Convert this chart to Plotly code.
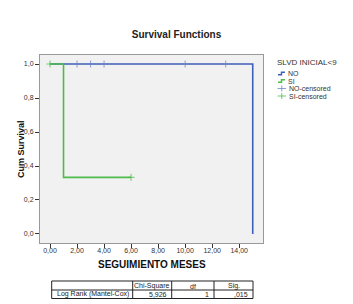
import plotly.graph_objects as go

# ---- data ----
no_time = [0, 15]
no_surv = [1.0, 0.0]
no_cens_time = [2, 3, 4, 10, 13]
no_cens_surv = [1.0, 1.0, 1.0, 1.0, 1.0]

si_time = [0, 1, 6]
si_surv = [1.0, 0.3333, 0.3333]
si_cens_time = [0, 6]
si_cens_surv = [1.0, 0.3333]

x_tickvals = [0, 2, 4, 6, 8, 10, 12, 14]
x_ticktext = ["0,00", "2,00", "4,00", "6,00", "8,00", "10,00", "12,00", "14,00"]
y_tickvals = [0, 0.2, 0.4, 0.6, 0.8, 1.0]
y_ticktext = ["0,0", "0,2", "0,4", "0,6", "0,8", "1,0"]

x_title = "SEGUIMIENTO MESES"
y_title = "Cum Survival"
legend_title = "SLVD INICIAL<9"
legend_names = ["NO", "SI", "NO-censored", "SI-censored"]

table_header = ["", "Chi-Square", "df", "Sig."]
table_row = ["Log Rank (Mantel-Cox)", "5,926", "1", ",015"]

BLUE = "#3f5fb8"
GREEN = "#4cbc4c"
FONT = "Liberation Sans, Arial, sans-serif"

W, H = 353, 304
L, R, T, B = 40, 90, 55, 61
PW, PH = W - L - R, H - T - B


def px2x(px):
    return (px - L) / PW


def px2y(py):
    return (H - B - py) / PH


fig = go.Figure()
fig.add_trace(go.Scatter(x=no_time, y=no_surv, mode="lines", line_shape="hv",
                         line=dict(color=BLUE, width=1.6), name=legend_names[0]))
fig.add_trace(go.Scatter(x=si_time, y=si_surv, mode="lines", line_shape="hv",
                         line=dict(color=GREEN, width=1.6), name=legend_names[1]))
fig.add_trace(go.Scatter(x=no_cens_time, y=no_cens_surv, mode="markers",
                         marker=dict(symbol="cross-thin", size=5,
                                     line=dict(color="#6f86c8", width=0.8)),
                         name=legend_names[2]))
fig.add_trace(go.Scatter(x=si_cens_time, y=si_cens_surv, mode="markers",
                         marker=dict(symbol="cross-thin", size=5,
                                     line=dict(color=GREEN, width=0.8)),
                         name=legend_names[3]))

axis_common = dict(showgrid=False, zeroline=False, ticks="outside", ticklen=4,
                   tickcolor="#333", tickwidth=1, showline=True, linecolor="#999",
                   linewidth=1, mirror=True, automargin=False,
                   tickfont=dict(family=FONT, size=7, color="#333"))

fig.update_xaxes(range=[-0.74, 15.76], tickvals=x_tickvals, ticktext=x_ticktext,
                 ticklabelstandoff=-3, **axis_common)
fig.update_yaxes(range=[-0.053, 1.053], tickvals=y_tickvals, ticktext=y_ticktext,
                 **axis_common)

# axis titles
fig.add_annotation(x=px2x(151.5), y=px2y(264), xref="paper", yref="paper",
                   text="<b>" + x_title + "</b>", showarrow=False,
                   xanchor="center", yanchor="middle",
                   font=dict(family=FONT, size=10, color="#111"))
fig.add_annotation(x=px2x(21), y=px2y(149), xref="paper", yref="paper",
                   text="<b>" + y_title + "</b>", showarrow=False, textangle=-90,
                   xanchor="center", yanchor="middle",
                   font=dict(family=FONT, size=9, color="#111"))

# ---- manual legend ----
fig.add_annotation(x=px2x(275), y=px2y(63), xref="paper", yref="paper",
                   text=legend_title, showarrow=False, xanchor="left", yanchor="middle",
                   font=dict(family=FONT, size=8, color="#333"))
leg_y = [73.5, 81, 88.5, 96]
leg_col = [BLUE, GREEN, "#6f86c8", GREEN]
for i, name in enumerate(legend_names):
    yy = leg_y[i]
    if i < 2:
        path = "M {} {} L {} {} L {} {} L {} {}".format(
            px2x(278), px2y(yy + 1.3), px2x(281.5), px2y(yy + 1.3),
            px2x(281.5), px2y(yy - 1.3), px2x(285), px2y(yy - 1.3))
        fig.add_shape(type="path", path=path, xref="paper", yref="paper",
                      line=dict(color=leg_col[i], width=1.5))
        tx = 285.5
    else:
        fig.add_shape(type="line", xref="paper", yref="paper",
                      x0=px2x(277.5), x1=px2x(286), y0=px2y(yy), y1=px2y(yy),
                      line=dict(color=leg_col[i], width=0.8))
        fig.add_shape(type="line", xref="paper", yref="paper",
                      x0=px2x(281.75), x1=px2x(281.75), y0=px2y(yy - 3), y1=px2y(yy + 3),
                      line=dict(color=leg_col[i], width=0.8))
        tx = 287
    fig.add_annotation(x=px2x(tx), y=px2y(yy), xref="paper", yref="paper",
                       text=name, showarrow=False, xanchor="left", yanchor="middle",
                       font=dict(family=FONT, size=7, color="#333"))

# ---- table ----
col_px = [51.7, 132.7, 171.7, 214, 253]
row_px = [281, 290, 298.5]
for yp in row_px:
    fig.add_shape(type="line", xref="paper", yref="paper",
                  x0=px2x(col_px[0]), x1=px2x(col_px[-1]), y0=px2y(yp), y1=px2y(yp),
                  line=dict(color="#222", width=1))
for xp in col_px:
    fig.add_shape(type="line", xref="paper", yref="paper",
                  x0=px2x(xp), x1=px2x(xp), y0=px2y(row_px[0]), y1=px2y(row_px[-1]),
                  line=dict(color="#222", width=1))

cell_font = dict(family=FONT, size=7, color="#222")
for i, txt in enumerate(table_header):
    if txt:
        fig.add_annotation(x=px2x((col_px[i] + col_px[i + 1]) / 2),
                           y=px2y((row_px[0] + row_px[1]) / 2 + 0.5),
                           xref="paper", yref="paper", text=txt, showarrow=False,
                           xanchor="center", yanchor="middle", font=cell_font)
for i, txt in enumerate(table_row):
    if i == 0:
        fig.add_annotation(x=px2x(col_px[i] + 3), y=px2y((row_px[1] + row_px[2]) / 2),
                           xref="paper", yref="paper", text=txt, showarrow=False,
                           xanchor="left", yanchor="middle", font=cell_font)
    else:
        fig.add_annotation(x=px2x(col_px[i + 1] - 3), y=px2y((row_px[1] + row_px[2]) / 2),
                           xref="paper", yref="paper", text=txt, showarrow=False,
                           xanchor="right", yanchor="middle", font=cell_font)

fig.update_layout(
    width=W, height=H,
    margin=dict(l=L, r=R, t=T, b=B, autoexpand=False),
    paper_bgcolor="white", plot_bgcolor="#f1f1f1",
    title=dict(text="<b>Survival Functions</b>", x=0.5, xref="container",
               y=1 - 34 / H, yanchor="middle",
               font=dict(family=FONT, size=10, color="#222")),
    showlegend=False,
)

fig.write_html("out.html", config={"displayModeBar": False},
               post_script="document.body.style.margin='0';document.body.style.overflow='hidden';")
